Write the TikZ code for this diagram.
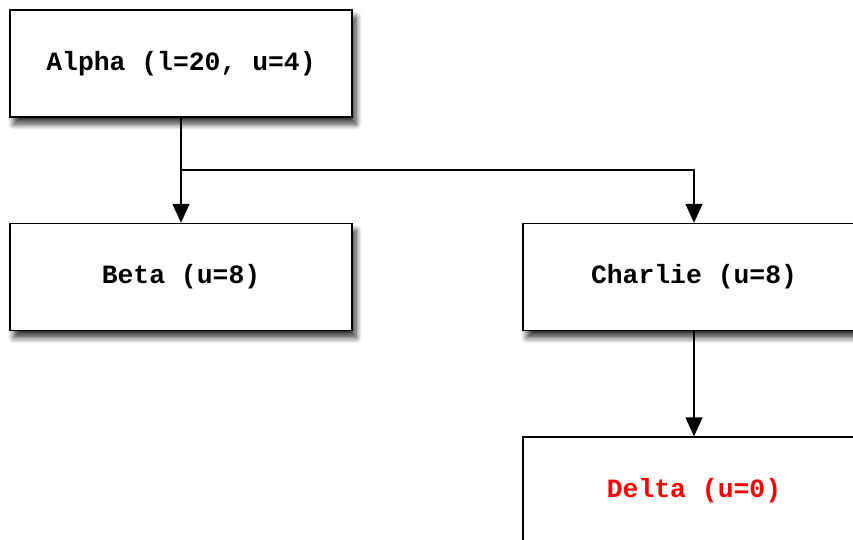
\documentclass[tikz,border=0pt]{standalone}
\usepackage{fontspec}
\setmonofont{Liberation Mono}
\usetikzlibrary{arrows.meta, shadows, shadows.blur}

\begin{document}
\begin{tikzpicture}[x=1pt, y=-1pt,
    unit/.style={draw, line width=1.4pt, fill=white, minimum width=342pt, minimum height=107pt,
        inner sep=0pt, font=\ttfamily\bfseries\fontsize{26.4}{30}\selectfont,
        blur shadow={shadow xshift=4pt, shadow yshift=-7pt, shadow blur radius=6pt,
            shadow blur steps=8, shadow opacity=80}},
    link/.style={line width=1.4pt, -{Triangle[width=17pt, length=19pt]}}]
    \useasboundingbox (0,0) rectangle (853,539);
%____________________________________________________________________________________________________
    \node[unit] (alpha) at (181,63.5) {Alpha (l=20, u=4)};
    \node[unit] (beta) at (181,277) {Beta (u=8)};
    \node[unit] (charlie) at (694,277) {Charlie (u=8)};
    \node[unit, text=red] (delta) at (694,490.5) {Delta (u=0)};
%____________________________________________________________________________________________________
    \coordinate (fork) at (181,170);
    \draw[link] (alpha.south) -- (beta.north);
    \draw[link] (fork) -| (charlie.north);
    \draw[link] (charlie.south) -- (delta.north);
\end{tikzpicture}
\end{document}
